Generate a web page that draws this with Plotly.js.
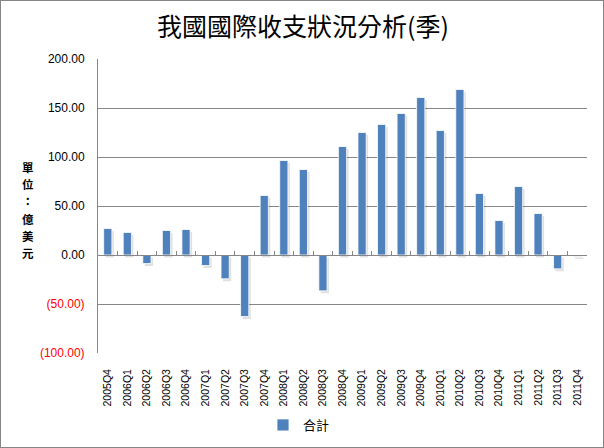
<!DOCTYPE html>
<html>
<head>
<meta charset="utf-8">
<script src="https://cdn.plot.ly/plotly-3.0.1.min.js"></script>
<style>
html,body{margin:0;padding:0;background:#fff;}
#chart{width:602px;height:446px;border:1px solid #868686;}
</style>
</head>
<body>
<div id="chart"></div>
<script>
const quarters = ["2005Q4","2006Q1","2006Q2","2006Q3","2006Q4","2007Q1","2007Q2","2007Q3","2007Q4","2008Q1","2008Q2","2008Q3","2008Q4","2009Q1","2009Q2","2009Q3","2009Q4","2010Q1","2010Q2","2010Q3","2010Q4","2011Q1","2011Q2","2011Q3","2011Q4"];
const totals = [27.0,23.0,-8.7,25.0,26.0,-10.7,-24.3,-62.8,60.7,96.4,87.2,-36.6,110.7,125.0,133.2,144.4,160.7,127.0,168.9,62.8,35.2,69.9,42.3,-14.1,-1.5];
const yTickVals = [-100,-50,0,50,100,150,200];
const yTickLabels = ["(100.00)","(50.00)","0.00","50.00","100.00","150.00","200.00"];
const seriesName = "合計";
const chartTitle = "我國國際收支狀況分析(季)";
const yTitleChars = ["單","位","：","億","美","元"];

const tickText = yTickLabels.map((t,i)=> yTickVals[i] < 0 ? '<span style="color:#FF0000">'+t+'</span>' : t);

const traces = [
  // soft drop shadow behind each bar
  {type:'bar', x:quarters, y:totals, base:-2.5, width:0.42, offset:-0.21+0.1, marker:{color:'rgba(0,0,0,0.12)', line:{width:0}}, xaxis:'x', yaxis:'y', showlegend:false, hoverinfo:'skip'},
  {type:'bar', x:quarters, y:totals, name:seriesName, width:0.42, offset:-0.21, marker:{color:'#4F81BD', line:{color:'#FFFFFF', width:0.8}}, xaxis:'x', yaxis:'y', showlegend:true},
  {type:'scatter', mode:'none', x:quarters, y:quarters.map(()=>0), xaxis:'x2', yaxis:'y', showlegend:false, hoverinfo:'skip'}
];

const PH = 446 - 58 - 94;
const yTitleAnn = yTitleChars.map((c,i)=>({
  text:'<b>'+c+'</b>', xref:'paper', yref:'paper',
  x:(28-98)/489, y:(352 - (166 + i*17.2))/PH,
  xanchor:'center', yanchor:'middle', showarrow:false, borderpad:0,
  font:{family:'Noto Sans CJK TC', size:11.5, color:'#000'}
}));

const layout = {
  width:602, height:446,
  margin:{l:97, r:16, t:58, b:94, autoexpand:false},
  paper_bgcolor:'#fff', plot_bgcolor:'#fff',
  title:{text:chartTitle, x:0.5017, xref:'container', xanchor:'center', y:0.942, yref:'container', yanchor:'middle', font:{family:'Noto Sans CJK TC', size:25, color:'#000'}},
  barmode:'overlay',
  showlegend:true,
  legend:{orientation:'h', itemwidth:30, x:0.495, xref:'container', xanchor:'center', y:1-424/446, yref:'container', yanchor:'middle', font:{family:'Noto Sans CJK TC', size:13, color:'#000'}},
  xaxis:{type:'category', categoryarray:quarters, range:[-0.5,24.5], automargin:false, showline:false, ticks:'', showgrid:false, zeroline:false, tickangle:-90, ticklabelstandoff:13, tickfont:{family:'Liberation Sans', size:10.5, color:'#000'}},
  xaxis2:{type:'category', categoryarray:quarters, range:[-0.5,24.5], overlaying:'x', anchor:'free', position:1/3, showline:true, linecolor:'#868686', linewidth:1, ticks:'inside', ticklen:4, tickcolor:'#868686', tickson:'boundaries', showticklabels:false, showgrid:false, zeroline:false},
  yaxis:{range:[-100,200], automargin:false, tickvals:yTickVals, ticktext:tickText, showgrid:true, gridcolor:'#868686', gridwidth:1, showline:true, linecolor:'#868686', linewidth:1, zeroline:false, ticks:'', ticklabelstandoff:10, tickfont:{family:'Liberation Sans', size:12, color:'#000'}},
  annotations:yTitleAnn
};

Plotly.newPlot('chart', traces, layout, {displayModeBar:false, staticPlot:true});
</script>
</body>
</html>
